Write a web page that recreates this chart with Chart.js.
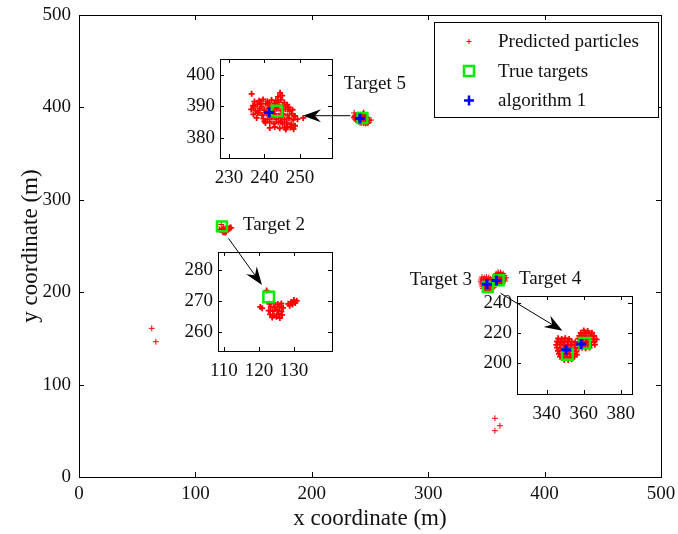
<!DOCTYPE html>
<html><head><meta charset="utf-8">
<script src="https://cdn.jsdelivr.net/npm/chart.js@4/dist/chart.umd.min.js"></script>
<style>
html,body{margin:0;padding:0;background:#fff;}
#wrap{position:relative;width:678px;height:534px;overflow:hidden;background:#fff;}
canvas{position:absolute;}
</style></head><body>
<div id="wrap">
<canvas id="main" width="678" height="534" style="left:0;top:0"></canvas>
<canvas id="inset5"></canvas>
<canvas id="inset2"></canvas>
<canvas id="inset34"></canvas>
</div>
<script>
// ---------------- DATA ----------------
const seriesLabels = ['Predicted particles', 'True targets', 'algorithm 1'];
const xTicksMain = [0, 100, 200, 300, 400, 500];
const yTicksMain = [0, 100, 200, 300, 400, 500];
const inset5XTicks = [230, 240, 250];
const inset5YTicks = [380, 390, 400];
const inset2XTicks = [110, 120, 130];
const inset2YTicks = [260, 270, 280];
const inset34XTicks = [340, 360, 380];
const inset34YTicks = [200, 220, 240];

const particlesT5 = [
 [236.4,394.0],[244.4,394.3],[245.0,393.4],[243.8,393.0],
 [237.2,391.5],[238.5,391.8],[239.6,392.2],[240.8,391.6],[242.0,392.0],[243.2,391.8],[244.6,392.1],[245.6,391.2],
 [236.8,390.2],[238.0,390.6],[239.2,390.0],[240.4,390.8],[241.6,390.3],[242.8,390.9],[244.0,390.4],[245.2,390.0],[246.4,390.5],
 [236.3,389.0],[237.5,388.6],[238.7,389.3],[239.9,388.8],[241.1,389.4],[242.3,388.7],[243.5,389.2],[244.7,388.6],[245.9,389.1],[247.1,388.5],
 [236.9,387.4],[238.1,387.8],[239.3,387.2],[240.5,387.7],[241.7,387.1],[242.9,387.6],[244.1,387.0],[245.3,387.5],[246.5,387.1],[247.7,387.6],[248.6,386.9],
 [237.8,386.3],[239.7,386.1],[240.9,385.8],[242.1,386.4],[243.3,385.9],[244.5,386.3],[245.7,385.8],[246.9,386.2],[248.1,385.7],[249.3,385.9],[250.9,386.3],
 [240.3,384.7],[241.5,385.0],[242.7,384.5],[243.9,384.9],[245.1,384.4],[246.3,384.8],[247.5,384.3],[248.6,383.8],
 [241.5,383.1],[242.9,383.4],[244.3,383.0],[245.7,383.3],[246.0,382.6],[247.3,383.2],[248.2,382.7],
 [237.0,389.8],[238.3,388.1],[239.0,390.9],[241.0,391.0],[243.9,391.3],[246.8,389.7],[247.9,388.9],[240.0,385.2],[243.0,389.9],[244.8,385.2],[246.4,383.6]
];
const particlesT2 = [
 [122.2,273.3],[120.4,268.0],[120.9,267.6],
 [123.0,269.0],[124.2,269.3],[125.4,268.9],[126.4,269.1],
 [123.4,268.0],[124.6,267.8],[125.8,268.2],[126.9,267.7],
 [122.8,266.8],[124.0,266.6],[125.2,267.0],[126.4,266.5],
 [123.2,265.6],[124.4,265.2],[125.6,265.7],[126.6,265.4],
 [123.8,264.6],[125.0,264.8],[126.0,264.4],
 [128.4,269.0],[129.2,269.6],[130.0,270.2],[130.8,270.0],[129.6,268.8],[128.8,268.4],[130.4,269.3]
];
const particlesT34 = [
 [346.2,216.3],[348.1,215.8],[350.0,216.4],[352.1,215.9],
 [345.6,214.2],[347.5,213.8],[349.6,214.4],[351.4,213.9],[353.5,214.3],[355.4,213.7],
 [345.2,212.0],[347.2,212.4],[349.1,211.8],[351.2,212.3],[353.0,211.7],[355.1,212.2],[357.0,211.8],
 [345.6,210.1],[347.4,209.7],[349.5,210.3],[351.5,209.8],[353.4,210.2],[355.5,209.6],[357.4,210.0],
 [346.1,208.0],[348.0,207.6],[350.1,208.2],[352.0,207.7],[354.1,208.1],[356.0,207.5],
 [346.6,206.0],[348.5,205.6],[350.4,206.2],[352.5,205.7],[354.4,206.1],[356.3,205.4],
 [347.2,204.0],[349.1,203.6],[351.0,204.2],[353.1,203.7],[355.0,204.1],
 [349.5,202.0],[351.6,201.8],[353.4,202.3],
 [360.0,221.6],[362.1,221.3],
 [358.4,219.9],[360.5,220.2],[362.6,219.8],[364.4,220.1],
 [357.6,218.0],[359.5,218.3],[361.4,217.8],[363.6,218.2],[365.5,217.9],
 [357.1,216.1],[359.0,215.8],[361.1,216.2],[363.0,215.7],[365.1,216.0],[366.9,215.6],
 [357.6,214.0],[359.6,213.7],[361.5,214.2],[363.4,213.8],[365.6,214.1],
 [358.1,212.0],[360.0,211.7],[362.1,212.2],[364.0,211.8],[366.0,212.1],
 [359.1,210.0],[361.0,209.7],[363.1,210.1]
];
const particlesStray = [[62.5,160.9],[66.0,146.4],[357.3,63.5],[361.6,55.5],[357.3,50.1]];
const trueTargets = [[243.5,388.5],[122.8,271.2],[351.2,205.6],[360.5,213.0]];
const algorithm1 = [[241.3,388.0],[350.5,208.6],[358.6,212.6]];

// annotation texts (data coordinates of main axes)
const annotationTexts = [
 {text:'Target 5', x:227.5, y:425.0, align:'left'},
 {text:'Target 2', x:140.8, y:272.7, align:'left'},
 {text:'Target 3', x:337.6, y:213.2, align:'right'},
 {text:'Target 4', x:378.0, y:214.3, align:'left'}
];
const annotationArrows = [
 {from:[233.1,391.0], to:[192.4,391.0]},
 {from:[128.4,258.3], to:[157.2,207.8]},
 {from:[362.2,198.8], to:[415.3,158.3]}
];

// ---------------- HELPERS ----------------
const FONT = "'Liberation Serif', 'Times New Roman', serif";
const TXT = '#111';
const toXY = a => a.map(p => ({x:p[0], y:p[1]}));
const allParticles = [].concat(particlesT5, particlesT2, particlesT34, particlesStray);

function makeDatasets(s) {
  return [
    {label: seriesLabels[0], data: toXY(allParticles), pointStyle:'cross', pointRadius:s.r, pointBorderWidth:s.rw,
     borderColor:'#ff0000', backgroundColor:'#ff0000', order:3},
    {label: seriesLabels[1], data: toXY(trueTargets), pointStyle:'rect', pointRadius:s.g, pointBorderWidth:2.5,
     borderColor:'#00ee00', backgroundColor:'rgba(0,0,0,0)', order:2},
    {label: seriesLabels[2], data: toXY(algorithm1), pointStyle:'cross', pointRadius:s.b, pointBorderWidth:3,
     borderColor:'#0000ff', backgroundColor:'#0000ff', order:1}
  ];
}

const framePlugin = {
  id:'frame',
  afterDatasetsDraw(chart, args, opts) {
    const {ctx, chartArea:a, scales:{x, y}} = chart;
    const L = opts.len || 5;
    ctx.save();
    ctx.strokeStyle = '#000';
    ctx.lineWidth = 1;
    ctx.beginPath();
    x.ticks.forEach(t => {
      const px = Math.round(x.getPixelForValue(t.value)) + 0.5;
      ctx.moveTo(px, a.bottom); ctx.lineTo(px, a.bottom - L);
      ctx.moveTo(px, a.top); ctx.lineTo(px, a.top + L);
    });
    y.ticks.forEach(t => {
      const py = Math.round(y.getPixelForValue(t.value)) + 0.5;
      ctx.moveTo(a.left, py); ctx.lineTo(a.left + L, py);
      ctx.moveTo(a.right, py); ctx.lineTo(a.right - L, py);
    });
    ctx.stroke();
    ctx.strokeRect(Math.round(a.left) + 0.5, Math.round(a.top) + 0.5, Math.round(a.right - a.left), Math.round(a.bottom - a.top));
    ctx.restore();
  }
};

function drawArrow(ctx, x1, y1, x2, y2) {
  const dx = x2 - x1, dy = y2 - y1, len = Math.hypot(dx, dy);
  const ux = dx/len, uy = dy/len, px = -uy, py = ux;
  const L = 18, W = 6.5, N = 12;
  const bx = x2 - ux*L, by = y2 - uy*L;
  const nx = x2 - ux*N, ny = y2 - uy*N;
  ctx.beginPath();
  ctx.moveTo(x1, y1); ctx.lineTo(nx, ny);
  ctx.stroke();
  ctx.beginPath();
  ctx.moveTo(x2, y2);
  ctx.lineTo(bx + px*W, by + py*W);
  ctx.lineTo(nx, ny);
  ctx.lineTo(bx - px*W, by - py*W);
  ctx.closePath();
  ctx.fill();
}

const annotPlugin = {
  id:'annot',
  afterDraw(chart) {
    const {ctx, scales:{x, y}} = chart;
    ctx.save();
    ctx.fillStyle = '#000'; ctx.strokeStyle = '#000'; ctx.lineWidth = 1;
    annotationArrows.forEach(a => {
      drawArrow(ctx, x.getPixelForValue(a.from[0]), y.getPixelForValue(a.from[1]),
                     x.getPixelForValue(a.to[0]), y.getPixelForValue(a.to[1]));
    });
    ctx.fillStyle = TXT;
    ctx.font = "19px " + FONT;
    ctx.textBaseline = 'middle';
    annotationTexts.forEach(t => {
      ctx.textAlign = t.align;
      ctx.fillText(t.text, x.getPixelForValue(t.x), y.getPixelForValue(t.y));
    });
    // legend box
    const box = {l:434, t:22, r:658, b:117};
    ctx.fillStyle = '#fff';
    ctx.fillRect(box.l, box.t, box.r - box.l, box.b - box.t);
    ctx.strokeStyle = '#000';
    ctx.strokeRect(box.l + 0.5, box.t + 0.5, box.r - box.l, box.b - box.t);
    const rows = [41.5, 71, 100.5];
    const mx = 469, tx = 498;
    const sizes = [{r:2.5, w:1}, {r:5, w:2.5}, {r:5, w:2.5}];
    chart.data.datasets.forEach((ds, i) => {
      const yy = rows[i];
      ctx.strokeStyle = ds.borderColor;
      ctx.lineWidth = sizes[i].w;
      const r = sizes[i].r;
      ctx.beginPath();
      if (ds.pointStyle === 'rect') {
        ctx.rect(mx - r, yy - r, 2*r, 2*r);
      } else {
        ctx.moveTo(mx - r, yy); ctx.lineTo(mx + r, yy);
        ctx.moveTo(mx, yy - r); ctx.lineTo(mx, yy + r);
      }
      ctx.stroke();
      ctx.fillStyle = TXT;
      ctx.textAlign = 'left';
      ctx.fillText(ds.label, tx, yy + 1);
    });
    ctx.restore();
  }
};

function axisCfg(min, max, ticksArr, fit, isX, pad) {
  return {
    type:'linear', min, max,
    afterBuildTicks: s => { s.ticks = ticksArr.map(v => ({value:v})); },
    afterFit: s => {
      if (isX) s.height = fit; else s.width = fit;
      s.paddingTop = 0; s.paddingBottom = 0; s.paddingLeft = 0; s.paddingRight = 0;
    },
    grid:{display:false, drawTicks:false},
    border:{display:false},
    ticks:{padding:pad, autoSkip:false, maxRotation:0, color:TXT, font:{family:FONT, size:19}}
  };
}

// ---------------- MAIN CHART ----------------
const mainX = axisCfg(0, 500, xTicksMain, 57, true, 6);
mainX.title = {display:true, text:'x coordinate (m)', color:TXT, font:{family:FONT, size:23}, padding:{top:0, bottom:1}};
const mainY = axisCfg(0, 500, yTicksMain, 79, false, 8);
mainY.title = {display:true, text:'y coordinate (m)', color:TXT, font:{family:FONT, size:23}, padding:{top:17, bottom:0}};

new Chart(document.getElementById('main'), {
  type:'scatter',
  data:{datasets: makeDatasets({r:3, rw:1, g:7, b:5})},
  options:{
    responsive:false, animation:false, devicePixelRatio:1,
    layout:{padding:{left:0, top:15, right:17, bottom:0}},
    scales:{x:mainX, y:mainY},
    plugins:{legend:{display:false}, tooltip:{enabled:false}, frame:{len:5}},
    events:[]
  },
  plugins:[framePlugin, annotPlugin]
});

// ---------------- INSETS ----------------
const insets = [
  {id:'inset5', box:{l:220, t:59, r:332, b:158}, x:[227.5, 259], y:[373.5, 405.1], xt:inset5XTicks, yt:inset5YTicks},
  {id:'inset2', box:{l:218, t:252, r:332, b:351}, x:[108.3, 140.9], y:[253.7, 285.8], xt:inset2XTicks, yt:inset2YTicks},
  {id:'inset34', box:{l:517, t:296, r:632, b:394}, x:[324, 386], y:[179, 244.7], xt:inset34XTicks, yt:inset34YTicks}
];
const YW = 50, XH = 34, PT = 12, PR = 24;
insets.forEach(ins => {
  const cv = document.getElementById(ins.id);
  const w = YW + (ins.box.r - ins.box.l) + PR;
  const h = PT + (ins.box.b - ins.box.t) + XH;
  cv.width = w; cv.height = h;
  cv.style.left = (ins.box.l - YW) + 'px';
  cv.style.top = (ins.box.t - PT) + 'px';
  new Chart(cv, {
    type:'scatter',
    data:{datasets: makeDatasets({r:3, rw:1.8, g:7.5, b:5})},
    options:{
      responsive:false, animation:false, devicePixelRatio:1,
      layout:{padding:{left:0, top:PT, right:PR, bottom:0}},
      scales:{
        x: axisCfg(ins.x[0], ins.x[1], ins.xt, XH, true, 9),
        y: axisCfg(ins.y[0], ins.y[1], ins.yt, YW, false, 5)
      },
      plugins:{legend:{display:false}, tooltip:{enabled:false}, frame:{len:4}},
      events:[]
    },
    plugins:[framePlugin]
  });
});
</script>
</body></html>
